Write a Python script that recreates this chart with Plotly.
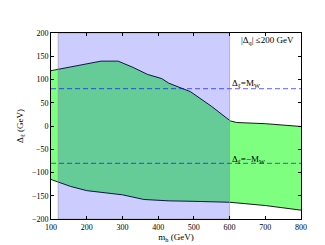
import plotly.graph_objects as go

# Upper boundary of allowed region
upper_x = [100, 120, 155, 200, 240, 288, 330, 370, 410, 430, 490, 550, 602, 620, 700, 800]
upper_y = [119, 122, 126, 133, 139.5, 139.5, 126, 111, 102, 92, 74, 42, 11, 7.5, 5, -1]
# Lower boundary
lower_x = [100, 120, 155, 200, 250, 300, 360, 430, 500, 600, 700, 800]
lower_y = [-115, -120, -130, -139, -143, -148, -158, -161, -162, -164, -171, -181]
# Blue excluded band in m_h
band_x = [120, 600]
y_lim = [-200, 200]
x_lim = [100, 800]
MW = 80.4

SERIF = "Liberation Serif, DejaVu Serif, serif"

fig = go.Figure()
fig.add_trace(go.Scatter(x=lower_x, y=lower_y, mode="lines",
                         line=dict(color="black", width=0.9), showlegend=False))
fig.add_trace(go.Scatter(x=upper_x, y=upper_y, mode="lines", fill="tonexty",
                         fillcolor="rgba(0,255,0,0.5)",
                         line=dict(color="black", width=0.9), showlegend=False))
fig.add_trace(go.Scatter(
    x=[band_x[0], band_x[1], band_x[1], band_x[0], band_x[0]],
    y=[y_lim[0], y_lim[0], y_lim[1], y_lim[1], y_lim[0]],
    mode="lines", fill="toself", fillcolor="rgba(0,0,255,0.2)",
    line=dict(color="rgba(150,150,150,0.6)", width=1), showlegend=False))
for v in (MW, -MW):
    fig.add_trace(go.Scatter(x=x_lim, y=[v, v], mode="lines",
                             line=dict(color="rgba(0,0,255,0.5)", width=1.2, dash="5px,3px"),
                             showlegend=False))

fig.add_annotation(x=785, y=184, xanchor="right", yanchor="middle", showarrow=False,
                   text="|Δ<sub>q</sub>| ≤200 GeV", font=dict(family=SERIF, size=9, color="black"))
fig.add_annotation(x=600, y=91, xanchor="left", yanchor="middle", showarrow=False,
                   text="Δ<sub>ℓ</sub>=M<sub>W</sub>", font=dict(family=SERIF, size=9, color="black"))
fig.add_annotation(x=600, y=-71, xanchor="left", yanchor="middle", showarrow=False,
                   text="Δ<sub>ℓ</sub>=−M<sub>W</sub>", font=dict(family=SERIF, size=9, color="black"))

axis_common = dict(showgrid=False, zeroline=False, showline=True, linecolor="black",
                   linewidth=1, mirror="ticks", ticks="inside", ticklen=3,
                   tickcolor="black", tickfont=dict(family=SERIF, size=8, color="black"))
fig.update_xaxes(range=x_lim, dtick=100, tick0=100,
                 title=dict(text="m<sub>h</sub> (GeV)", font=dict(family=SERIF, size=9, color="black"),
                            standoff=3),
                 **axis_common)
fig.update_yaxes(range=y_lim, dtick=50, tick0=-200,
                 title=dict(text="Δ<sub>ℓ</sub> (GeV)", font=dict(family=SERIF, size=9, color="black"),
                            standoff=6),
                 **axis_common)
fig.update_layout(width=325, height=245, margin=dict(l=40, r=32, t=25, b=26),
                  plot_bgcolor="white", paper_bgcolor="white", showlegend=False)
fig.write_html("out.html")
